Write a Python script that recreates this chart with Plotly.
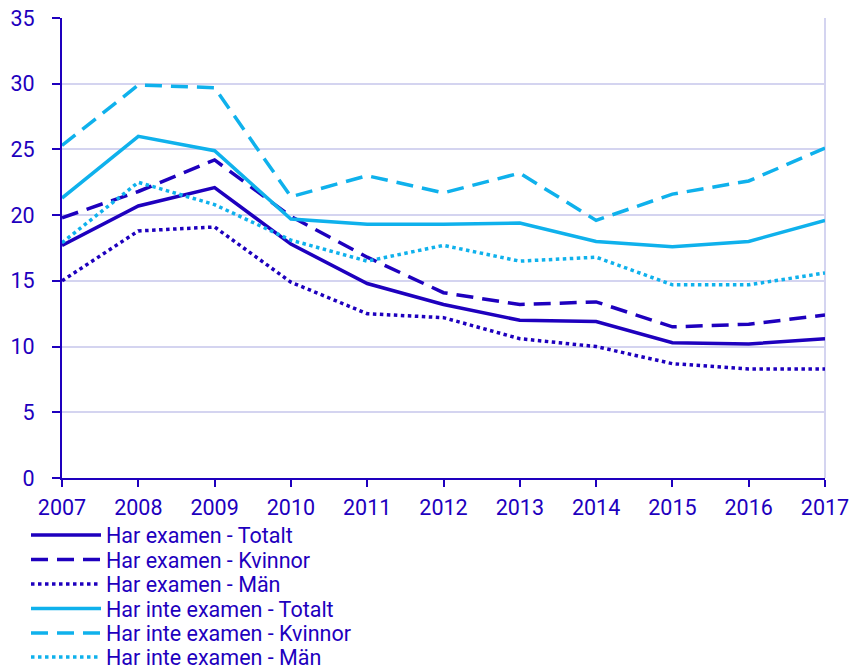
import plotly.graph_objects as go

years = [2007, 2008, 2009, 2010, 2011, 2012, 2013, 2014, 2015, 2016, 2017]

har_totalt = [17.7, 20.7, 22.1, 17.8, 14.8, 13.2, 12.0, 11.9, 10.3, 10.2, 10.6]
har_kvinnor = [19.8, 21.8, 24.2, 19.9, 16.8, 14.1, 13.2, 13.4, 11.5, 11.7, 12.4]
har_man = [15.0, 18.8, 19.1, 14.9, 12.5, 12.2, 10.6, 10.0, 8.7, 8.3, 8.3]
inte_totalt = [21.3, 26.0, 24.9, 19.7, 19.3, 19.3, 19.4, 18.0, 17.6, 18.0, 19.6]
inte_kvinnor = [25.3, 29.9, 29.7, 21.4, 23.0, 21.7, 23.2, 19.6, 21.6, 22.6, 25.1]
inte_man = [17.9, 22.5, 20.8, 18.1, 16.5, 17.7, 16.5, 16.8, 14.7, 14.7, 15.6]

names = [
    "Har examen - Totalt",
    "Har examen - Kvinnor",
    "Har examen - Män",
    "Har inte examen - Totalt",
    "Har inte examen - Kvinnor",
    "Har inte examen - Män",
]

DARK = "#1E00BE"
LIGHT = "#0FB1EC"
GRID = "#D4D4F0"
FONT = "Roboto"
FS = 21.5

series = [har_totalt, har_kvinnor, har_man, inte_totalt, inte_kvinnor, inte_man]
colors = [DARK, DARK, DARK, LIGHT, LIGHT, LIGHT]
dashes = ["solid", "17px,9px", "dot", "solid", "17px,9px", "dot"]
widths = [3.5, 3.5, 3.5, 3.5, 3.5, 3.5]

W, H = 850, 670
legend_rows = [535, 559.5, 584, 608.5, 633, 657]

fig = go.Figure()
legends = {}
for i, (name, vals, c, d, w) in enumerate(zip(names, series, colors, dashes, widths)):
    lid = "legend" if i == 0 else f"legend{i + 1}"
    fig.add_trace(go.Scatter(
        x=years, y=vals, name=name, mode="lines",
        line=dict(color=c, dash=d, width=w),
        legend=lid,
    ))
    legends[lid] = dict(
        xref="container", yref="container",
        x=26 / W, xanchor="left",
        y=1 - legend_rows[i] / H, yanchor="middle",
        itemwidth=70, bgcolor="rgba(0,0,0,0)",
        font=dict(family=FONT, size=FS, color=DARK),
    )

fig.update_layout(
    width=W, height=H,
    margin=dict(l=62, r=25, t=18, b=192, autoexpand=False),
    paper_bgcolor="white", plot_bgcolor="white",
    font=dict(family=FONT, size=FS, color=DARK),
    showlegend=True,
    xaxis=dict(
        range=[2007, 2017], tickmode="array", tickvals=years,
        ticktext=[str(y) for y in years], tickangle=0,
        showgrid=False, zeroline=False, automargin=False,
        showline=True, linecolor=DARK, linewidth=2,
        ticks="outside", ticklen=7, tickwidth=2, tickcolor=DARK,
        ticklabelstandoff=2, ticklabeloverflow="allow",
    ),
    yaxis=dict(
        range=[0, 35], tickmode="array", tickvals=[0, 5, 10, 15, 20, 25, 30, 35],
        showgrid=True, gridcolor=GRID, gridwidth=2, zeroline=False, automargin=False,
        showline=True, linecolor=DARK, linewidth=2,
        ticks="outside", ticklen=8, tickwidth=2, tickcolor=DARK,
        ticklabelstandoff=13, ticklabeloverflow="allow",
    ),
    shapes=[dict(type="line", xref="paper", yref="paper", x0=1, x1=1, y0=0, y1=1,
                 line=dict(color=GRID, width=2), layer="below")],
    **legends,
)

fig.write_html(
    "out.html",
    config={"displayModeBar": False},
    post_script="document.body.style.margin='0';document.body.style.overflow='hidden';",
)
